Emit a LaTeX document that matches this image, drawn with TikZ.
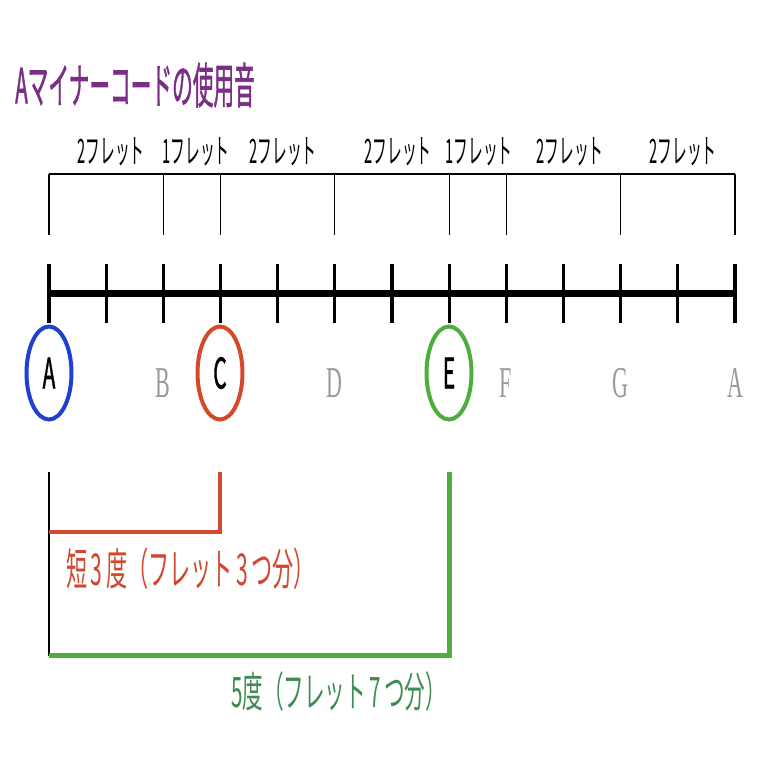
\documentclass[tikz,border=0pt]{standalone}
\usepackage{fontspec}
\newfontfamily\jp{Noto Sans CJK JP}
\newfontfamily\jpm[BoldFont={Noto Sans CJK JP}, BoldFeatures={FakeBold=1.6}]{Noto Sans CJK JP}
\newfontfamily\serifx{Liberation Serif}
\usetikzlibrary{shapes.geometric}
\definecolor{titlepurple}{HTML}{7A2E86}
\definecolor{bluec}{HTML}{1F3FD0}
\definecolor{redc}{HTML}{D4482B}
\definecolor{greenc}{HTML}{4DAE3E}
\definecolor{redtext}{HTML}{D0482E}
\definecolor{greentext}{HTML}{3F8C52}
\definecolor{grayletter}{HTML}{9A9A9A}
\tikzset{
  fretlabel/.style={inner sep=0, font=\fontsize{32}{32}\jp},
  noteletter/.style={inner sep=0, text=grayletter, font=\fontsize{44}{44}\serifx},
  chordnote/.style={ellipse, draw, line width=4, minimum width=45, minimum height=93, inner sep=0, font=\fontsize{42}{42}\jpm\bfseries},
  bracketline/.style={line width=1.1},
}
\begin{document}
\begin{tikzpicture}[x=1pt,y=-1pt]
\useasboundingbox (0,0) rectangle (766,766);
\fill[white] (0,0) rectangle (766,766);
% title
\node[anchor=west, inner sep=0, text=titlepurple] (title) at (15,85)
  {\scalebox{0.47}[1.1]{\fontsize{44}{44}\jpm\bfseries Aマイナーコードの使用音}};
% fret position coordinates
\foreach \i in {0,...,12} {
  \coordinate (t\i) at ({49+\i*57.17},293);
  \coordinate (tt\i) at ({49+\i*57.17},264);
  \coordinate (tb\i) at ({49+\i*57.17},323);
  \coordinate (b\i) at ({49+\i*57.17},174);
  \coordinate (bb\i) at ({49+\i*57.17},235);
}
% top bracket
\draw[line width=2.5] (b0) -- (b12);
\foreach \i in {0,2,3,5,7,8,10,12} { \draw[bracketline] (b\i) -- (bb\i); }
% fret labels
\node[fretlabel] (l1) at (111,152) {\scalebox{0.46}[1.05]{2フレット}};
\node[fretlabel] (l2) at (196,152) {\scalebox{0.46}[1.05]{1フレット}};
\node[fretlabel] (l3) at (283,152) {\scalebox{0.46}[1.05]{2フレット}};
\node[fretlabel] (l4) at (398,152) {\scalebox{0.46}[1.05]{2フレット}};
\node[fretlabel] (l5) at (479,152) {\scalebox{0.46}[1.05]{1フレット}};
\node[fretlabel] (l6) at (570,152) {\scalebox{0.46}[1.05]{2フレット}};
\node[fretlabel] (l7) at (683,152) {\scalebox{0.46}[1.05]{2フレット}};
% main bar
\draw[line width=7] (t0) -- (t12);
\foreach \i in {0,...,12} { \draw[line width=3.2] (tt\i) -- (tb\i); }
% chord notes
\node[chordnote, draw=bluec] (nA) at (49,373) {\scalebox{0.5}[1]{A}};
\node[chordnote, draw=redc] (nC) at (220,373) {\scalebox{0.5}[1]{C}};
\node[chordnote, draw=greenc] (nE) at (449,373) {\scalebox{0.5}[1]{E}};
% other notes
\node[noteletter] (nB) at (163,383) {\scalebox{0.5}[1]{B}};
\node[noteletter] (nD) at (334,383) {\scalebox{0.5}[1]{D}};
\node[noteletter] (nF) at (506,383) {\scalebox{0.5}[1]{F}};
\node[noteletter] (nG) at (620,383) {\scalebox{0.5}[1]{G}};
\node[noteletter] (nA2) at (735,383) {\scalebox{0.5}[1]{A}};
% interval brackets
\coordinate (s0) at (49,472);
\coordinate (s1) at (49,656);
\coordinate (r0) at (220,472);
\coordinate (r1) at (220,532);
\coordinate (r2) at (49,532);
\coordinate (g0) at (449,472);
\coordinate (g1) at (449,655);
\coordinate (g2) at (49,655);
\draw[line width=1.8] (s0) -- (s1);
\draw[redc, line width=4] (r0) -- (r1) -- (r2);
\draw[greenc, line width=5] (g0) -- (g1) -- (g2);
\node[anchor=west, inner sep=0, text=redtext] (m3) at (66,569)
  {\scalebox{0.48}[1]{\fontsize{44}{44}\jp 短\,3\,度（フレット\,3\,つ分）}};
\node[anchor=west, inner sep=0, text=greentext] (p5) at (231,692)
  {\scalebox{0.49}[1]{\fontsize{42}{42}\jp 5度（フレット\,7\,つ分）}};
\end{tikzpicture}
\end{document}
